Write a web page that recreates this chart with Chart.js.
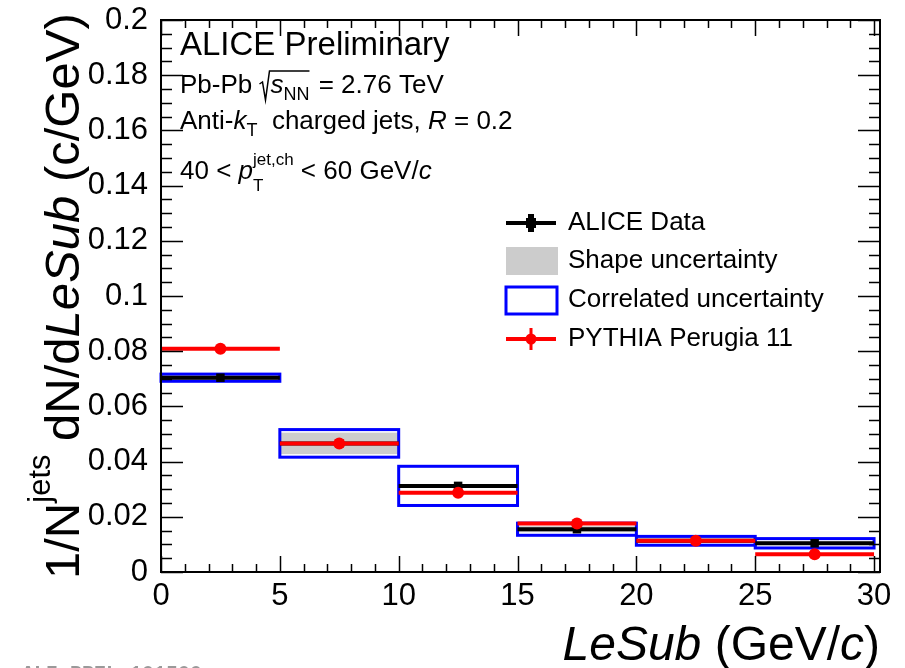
<!DOCTYPE html>
<html>
<head>
<meta charset="utf-8">
<script src="https://cdn.jsdelivr.net/npm/chart.js@4/dist/chart.umd.min.js"></script>
<style>
  body { margin: 0; background: #fff; }
  #chart { display: block; }
</style>
</head>
<body>
<canvas id="chart" width="905" height="668"></canvas>
<script>
// data
const binLow = [0, 5, 10, 15, 20, 25];
const binHigh = [5, 10, 15, 20, 25, 30];
const aliceData = [0.0704, 0.0466, 0.0312, 0.0155, 0.0113, 0.0104];
const shapeUnc = [0.0008, 0.0039, 0.0005, 0.0011, 0.0008, 0.0006];
const corrUnc = [0.0013, 0.0050, 0.0071, 0.0022, 0.0016, 0.0017];
const pythiaData = [0.0809, 0.0466, 0.0287, 0.0176, 0.0113, 0.0064];
const xTicks = [0, 5, 10, 15, 20, 25, 30];
const yTicks = [0, 0.02, 0.04, 0.06, 0.08, 0.1, 0.12, 0.14, 0.16, 0.18, 0.2];
const legendLabels = ["ALICE Data", "Shape uncertainty", "Correlated uncertainty", "PYTHIA Perugia 11"];

const FONT = '"Liberation Sans", Arial, Helvetica, sans-serif';

//build step segments, a null point breaks the line between bins
function stepPoints(vals) {
  let pts = [];
  vals.forEach((v, i) => {
    pts.push({ x: binLow[i], y: v });
    pts.push({ x: binHigh[i], y: v });
    pts.push({ x: binHigh[i], y: null });
  });
  return pts;
}
function centerPoints(vals) {
  return vals.map((v, i) => ({ x: (binLow[i] + binHigh[i]) / 2, y: v }));
}

function drawRich(ctx, x, y, parts) {
  let cx = x;
  for (const p of parts) {
    ctx.font = (p.it ? "italic " : "") + p.size + "px " + FONT;
    ctx.fillText(p.t, cx, y + (p.dy || 0));
    if (!p.keep) cx += ctx.measureText(p.t).width;
  }
  return cx;
}
function measureRich(ctx, parts) {
  let w = 0;
  for (const p of parts) {
    ctx.font = (p.it ? "italic " : "") + p.size + "px " + FONT;
    if (!p.keep) w += ctx.measureText(p.t).width;
  }
  return w;
}

const boxesPlugin = {
  id: "boxes",
  beforeDatasetsDraw(chart) {
    const ctx = chart.ctx;
    const xs = chart.scales.x, ys = chart.scales.y;
    ctx.save();
    // shape uncertainty (grey)
    ctx.fillStyle = "#cccccc";
    aliceData.forEach((v, i) => {
      const x1 = xs.getPixelForValue(binLow[i]), x2 = xs.getPixelForValue(binHigh[i]);
      const y1 = ys.getPixelForValue(v + shapeUnc[i]), y2 = ys.getPixelForValue(v - shapeUnc[i]);
      ctx.fillRect(x1, y1, x2 - x1, y2 - y1);
    });
    // correlated uncertainty (blue outline)
    ctx.strokeStyle = "#0000ff";
    ctx.lineWidth = 3;
    aliceData.forEach((v, i) => {
      const x1 = xs.getPixelForValue(binLow[i]), x2 = xs.getPixelForValue(binHigh[i]);
      const y1 = ys.getPixelForValue(v + corrUnc[i]), y2 = ys.getPixelForValue(v - corrUnc[i]);
      ctx.strokeRect(x1, y1, x2 - x1, y2 - y1);
    });
    ctx.restore();
  }
};

const frameText = {
  id: "frameText",
  afterDraw(chart) {
    const ctx = chart.ctx;
    const xs = chart.scales.x, ys = chart.scales.y;
    const a = chart.chartArea;
    ctx.save();

    //frame
    ctx.strokeStyle = "#000";
    ctx.lineWidth = 2;
    ctx.strokeRect(a.left, a.top, a.right - a.left, a.bottom - a.top);

    //ticks inside frame
    ctx.lineWidth = 1.5;
    ctx.beginPath();
    for (let k = 0; k <= 40; k++) {
      const v = k * 0.005;
      const py = Math.round(ys.getPixelForValue(v)) + 0.5;
      const len = k % 4 === 0 ? 22 : 11;
      ctx.moveTo(a.left, py); ctx.lineTo(a.left + len, py);
      ctx.moveTo(a.right, py); ctx.lineTo(a.right - len, py);
    }
    for (let k = 0; k <= 30; k++) {
      const px = Math.round(xs.getPixelForValue(k)) + 0.5;
      const len = k % 5 === 0 ? 16 : 8;
      ctx.moveTo(px, a.bottom); ctx.lineTo(px, a.bottom - len);
      ctx.moveTo(px, a.top); ctx.lineTo(px, a.top + len);
    }
    ctx.stroke();

    ctx.fillStyle = "#000";
    ctx.textAlign = "left";
    ctx.textBaseline = "alphabetic";

    //annotations
    drawRich(ctx, 180, 55, [{ t: "ALICE Preliminary", size: 33 }]);

    let cx = drawRich(ctx, 180, 93, [{ t: "Pb-Pb ", size: 26 }]);
    const sx = cx;
    cx = drawRich(ctx, sx + 11, 93, [{ t: "s", size: 26, it: true }, { t: "NN", size: 18, dy: 7 }]);
    ctx.lineWidth = 1.5;
    ctx.beginPath();
    ctx.moveTo(sx, 84); ctx.lineTo(sx + 3, 82); ctx.lineTo(sx + 6, 100);
    ctx.lineTo(sx + 10, 71); ctx.lineTo(cx, 71);
    ctx.stroke();
    drawRich(ctx, cx + 2, 93, [{ t: " = 2.76 TeV", size: 26 }]);

    drawRich(ctx, 180, 129, [
      { t: "Anti-", size: 26 }, { t: "k", size: 26, it: true }, { t: "T", size: 18, dy: 7 },
      { t: "  charged jets, ", size: 26 }, { t: "R", size: 26, it: true }, { t: " = 0.2", size: 26 }
    ]);

    drawRich(ctx, 180, 179, [
      { t: "40 < ", size: 26 }, { t: "p", size: 26, it: true },
      { t: "T", size: 17, dy: 12, keep: true }, { t: "jet,ch", size: 17, dy: -14 },
      { t: " < 60 GeV/", size: 26 }, { t: "c", size: 26, it: true }
    ]);

    //legend
    const lx1 = 506, lx2 = 556, lmid = 531;
    const rows = [223, 261, 300, 339];
    ctx.lineWidth = 4;
    ctx.strokeStyle = "#000";
    ctx.beginPath();
    ctx.moveTo(lx1, rows[0]); ctx.lineTo(lx2, rows[0]);
    ctx.stroke();
    ctx.fillStyle = "#000";
    ctx.fillRect(lmid - 3, rows[0] - 9, 6, 18);
    ctx.fillRect(lmid - 5, rows[0] - 5, 10, 10);
    ctx.fillStyle = "#cccccc";
    ctx.fillRect(lx1, rows[1] - 14, 52, 28);
    ctx.strokeStyle = "#0000ff";
    ctx.lineWidth = 3;
    ctx.strokeRect(lx1, rows[2] - 13, 51, 27);
    ctx.strokeStyle = "#ff0000";
    ctx.lineWidth = 4;
    ctx.beginPath();
    ctx.moveTo(lx1, rows[3]); ctx.lineTo(lx2, rows[3]);
    ctx.stroke();
    ctx.fillStyle = "#ff0000";
    ctx.fillRect(lmid - 1.5, rows[3] - 11, 3, 22);
    ctx.beginPath(); ctx.arc(lmid, rows[3], 5.5, 0, Math.PI * 2); ctx.fill();

    ctx.fillStyle = "#000";
    ctx.font = "26px " + FONT;
    ctx.textBaseline = "middle";
    legendLabels.forEach((l, i) => ctx.fillText(l, 568, rows[i]));

    //axis titles
    ctx.textBaseline = "alphabetic";
    const xt = [
      { t: "LeSub", size: 48, it: true }, { t: " (GeV/", size: 48 },
      { t: "c", size: 48, it: true }, { t: ")", size: 48 }
    ];
    drawRich(ctx, 880 - measureRich(ctx, xt), 660, xt);

    const yt = [
      { t: "1/N", size: 49 }, { t: "jets", size: 31, dy: -29 },
      { t: " dN/d", size: 49 }, { t: "LeSub", size: 49, it: true }, { t: " (c/GeV)", size: 49 }
    ];
    ctx.save();
    ctx.translate(79, 579);
    ctx.rotate(-Math.PI / 2);
    drawRich(ctx, 0, 0, yt);
    ctx.restore();

    //watermark
    ctx.fillStyle = "#999";
    ctx.font = "bold 20px 'Liberation Mono', monospace";
    ctx.textBaseline = "top";
    ctx.fillText("ALI-PREL-101500", 22, 664);

    ctx.restore();
  }
};

new Chart(document.getElementById("chart"), {
  type: "scatter",
  data: {
    datasets: [
      {
        label: "PYTHIA markers",
        data: centerPoints(pythiaData),
        pointStyle: "circle",
        pointRadius: 6,
        pointBackgroundColor: "#ff0000",
        pointBorderWidth: 0,
        showLine: false
      },
      {
        label: "PYTHIA Perugia 11",
        data: stepPoints(pythiaData),
        showLine: true,
        spanGaps: false,
        borderColor: "#ff0000",
        borderWidth: 4,
        pointRadius: 0
      },
      {
        label: "ALICE markers",
        data: centerPoints(aliceData),
        pointStyle: "rect",
        pointRadius: 6,
        pointBackgroundColor: "#000",
        pointBorderWidth: 0,
        showLine: false
      },
      {
        label: "ALICE Data",
        data: stepPoints(aliceData),
        showLine: true,
        spanGaps: false,
        borderColor: "#000",
        borderWidth: 4,
        pointRadius: 0
      }
    ]
  },
  options: {
    responsive: false,
    animation: false,
    devicePixelRatio: 1,
    layout: { padding: { top: 20, right: 25, left: 0, bottom: 0 } },
    plugins: { legend: { display: false }, tooltip: { enabled: false } },
    scales: {
      x: {
        type: "linear",
        min: 0,
        max: 30.25,
        grid: { display: false, drawTicks: false },
        border: { display: false },
        afterBuildTicks: (s) => { s.ticks = xTicks.map((v) => ({ value: v })); },
        afterFit: (s) => { s.height = 96; s.paddingLeft = 0; s.paddingRight = 0; },
        ticks: {
          padding: 6,
          color: "#000",
          font: { family: FONT, size: 31 },
          maxRotation: 0,
          autoSkip: false
        }
      },
      y: {
        min: 0,
        max: 0.2,
        grid: { display: false, drawTicks: false },
        border: { display: false },
        afterBuildTicks: (s) => { s.ticks = yTicks.map((v) => ({ value: v })); },
        afterFit: (s) => { s.width = 161; s.paddingTop = 0; s.paddingBottom = 0; },
        ticks: {
          padding: 13,
          color: "#000",
          font: { family: FONT, size: 31 },
          autoSkip: false,
          callback: (v) => String(parseFloat(Number(v).toFixed(3)))
        }
      }
    }
  },
  plugins: [boxesPlugin, frameText]
});
</script>
</body>
</html>
